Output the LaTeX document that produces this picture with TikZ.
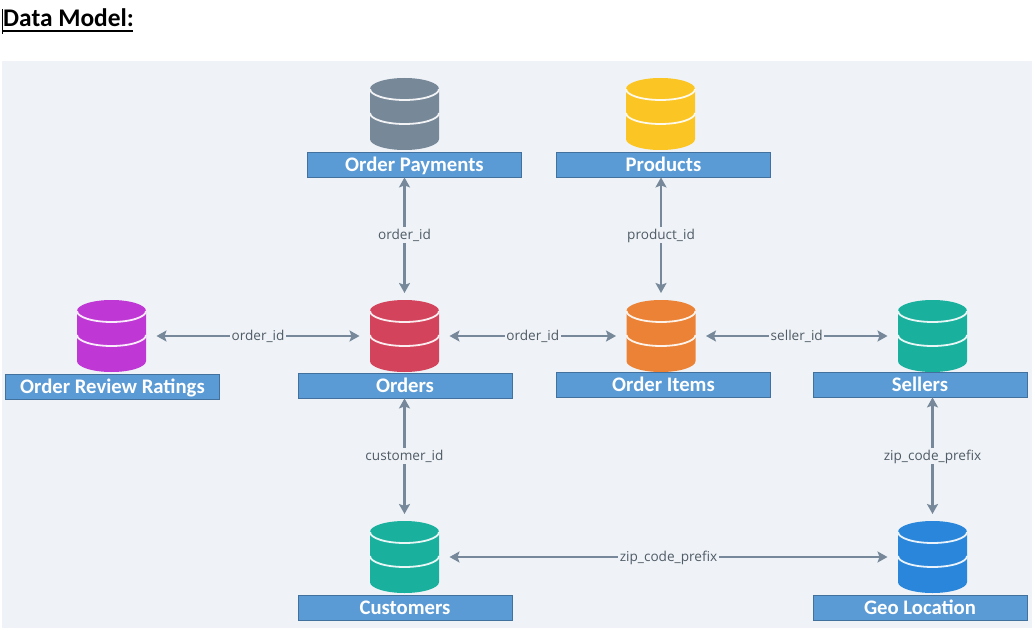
\documentclass[tikz,border=0pt]{standalone}
\usepackage{fontspec}
\setmainfont{Carlito}
\newfontfamily\labfont{Open Sans}
\usetikzlibrary{arrows.meta}
\definecolor{panel}{HTML}{EFF3F7}
\definecolor{boxfill}{HTML}{5B9BD5}
\definecolor{boxline}{HTML}{41719C}
\definecolor{linkc}{HTML}{76889A}
\definecolor{labc}{HTML}{4F5B66}
\definecolor{cgrey}{HTML}{778899}
\definecolor{cyellow}{HTML}{FBC524}
\definecolor{cpurple}{HTML}{BF37D5}
\definecolor{cred}{HTML}{D3435C}
\definecolor{corange}{HTML}{EB8236}
\definecolor{cteal}{HTML}{1AB09E}
\definecolor{cblue}{HTML}{2A86DA}
\tikzset{
  namebox/.style={draw=boxline,fill=boxfill,line width=0.8pt,minimum height=25pt,minimum width=214pt,text=white,inner sep=0pt,font=\fontsize{20.7}{21}\selectfont\bfseries,text depth=0pt,text height=0pt},
  dbslot/.style={minimum width=90pt,minimum height=86pt,inner sep=0pt,outer sep=0pt},
  link/.style={draw=linkc,line width=2.4pt,{Stealth[length=10pt,width=11pt,inset=2pt]}-{Stealth[length=10pt,width=11pt,inset=2pt]}},
  linklab/.style={fill=panel,inner sep=1.5pt,text=labc,font=\labfont\fontsize{13.6}{14}\selectfont,text height=11pt,text depth=2pt},
}
\newcommand{\dbcyl}[4]{% name, x, y, colour
  \node[dbslot] (#1) at (#2,#3) {};
  \begin{scope}[shift={(#2,#3)}]
    \fill[#4] (-34.5,-25) arc[start angle=180,end angle=360,x radius=34.5,y radius=11]
      -- (34.5,25) arc[start angle=0,end angle=180,x radius=34.5,y radius=11] -- cycle;
    \draw[white!90!#4,line width=1.8pt] (-34.5,-25) arc[start angle=180,end angle=0,x radius=34.5,y radius=11];
    \draw[white!90!#4,line width=1.8pt] (-34.5,-1) arc[start angle=180,end angle=0,x radius=34.5,y radius=11];
  \end{scope}}
\newcommand{\namelab}[4]{% name, x, y, text
  \node[namebox] (#1) at (#2,#3) {\raisebox{-0.36em}{#4}};}
\begin{document}
\begin{tikzpicture}[x=1pt,y=-1pt]
\useasboundingbox (0,0) rectangle (1035,631);
\fill[panel] (2,61) rectangle (1032,628);
\node[anchor=base west,inner sep=0pt,font=\fontsize{25.4}{27}\selectfont\bfseries] (title) at (3,27) {Data Model:};
\draw[line width=2pt] (3,31) -- (133,31);
\draw[line width=0.7pt] (2.5,9) -- (2.5,34);

\dbcyl{dbpay}{404.5}{114}{cgrey}
\dbcyl{dbprod}{660.5}{114}{cyellow}
\dbcyl{dbrev}{111.5}{336}{cpurple}
\dbcyl{dbord}{404.5}{336}{cred}
\dbcyl{dbitem}{661}{336}{corange}
\dbcyl{dbsell}{932.5}{336}{cteal}
\dbcyl{dbcust}{404.5}{557}{cteal}
\dbcyl{dbgeo}{932.5}{557}{cblue}

\namelab{bpay}{414.5}{164.5}{Order Payments}
\namelab{bprod}{663.5}{164.5}{Products}
\namelab{brev}{112.5}{386.5}{Order Review Ratings}
\namelab{bord}{405}{385.5}{Orders}
\namelab{bitem}{663.5}{384.5}{Order Items}
\namelab{bsell}{920}{384.5}{Sellers}
\namelab{bcust}{405}{607.5}{Customers}
\namelab{bgeo}{920}{607.5}{Geo Location}

\draw[link] (dbord.north) -- node[linklab] (l1) {order\_id} (dbord.north |- bpay.south);
\draw[link] (dbitem.north) -- node[linklab] (l2) {product\_id} (dbitem.north |- bprod.south);
\draw[link] (dbrev.east) -- node[linklab] (l3) {order\_id} (dbord.west);
\draw[link] (dbord.east) -- node[linklab] (l4) {order\_id} (dbitem.west);
\draw[link] (dbitem.east) -- node[linklab] (l5) {seller\_id} (dbsell.west);
\draw[link] (dbord.south |- bord.south) -- node[linklab] (l6) {customer\_id} (dbcust.north);
\draw[link] (dbsell.south |- bsell.south) -- node[linklab] (l7) {zip\_code\_prefix} (dbgeo.north);
\draw[link] (dbcust.east) -- node[linklab] (l8) {zip\_code\_prefix} (dbgeo.west);
\end{tikzpicture}
\end{document}
